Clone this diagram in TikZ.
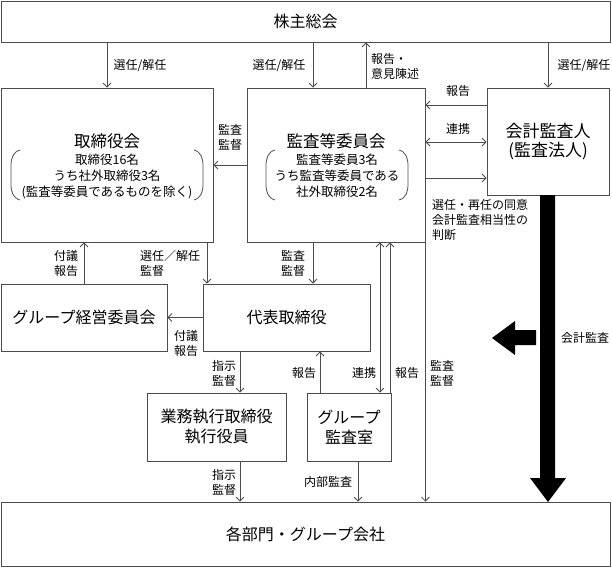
\documentclass[tikz,border=0pt]{standalone}
\usepackage{fontspec}
\setmainfont{Noto Sans CJK JP}
\usetikzlibrary{arrows.meta}

\begin{document}
\begin{tikzpicture}[x=1pt, y=-1pt,
  box/.style={draw=black!70, line width=0.8pt, inner sep=0pt, align=center, font=\fontsize{16}{20}\selectfont},
  wire/.style={draw=black!70, line width=0.8pt, -{Straight Barb[length=4pt,width=8pt]}},
  twoway/.style={wire, {Straight Barb[length=4pt,width=8pt]}-{Straight Barb[length=4pt,width=8pt]}},
  lbl/.style={inner sep=0pt, align=center, font=\fontsize{12}{15}\selectfont},
  inner/.style={inner sep=0pt, align=center, font=\fontsize{12.5}{16}\selectfont},
  paren/.style={draw=black!70, line width=0.8pt}
]
\useasboundingbox (0,0) rectangle (612,567);

% Top and bottom boxes
\node[box, minimum width=609pt, minimum height=41pt] (sh) at (305.5,21.5) {株主総会};
\node[box, minimum width=609pt, minimum height=64pt] (units) at (305.5,534) {各部門・グループ会社};

% Board and audit committee
\node[box, minimum width=212pt, minimum height=154pt] (board) at (107,165) {};
\node[box, font=\fontsize{16.5}{20}\selectfont, draw=none] (boardT) at (107,141) {取締役会};
\node[inner] (boardM) at (107,176) {取締役16名\\うち社外取締役3名\\(監査等委員であるものを除く)};
\draw[paren] (20,150) .. controls (13,152) and (11,158) .. (11,166) -- (11,184) .. controls (11,192) and (13,198) .. (20,200);
\draw[paren] (194,150) .. controls (201,152) and (203,158) .. (203,166) -- (203,184) .. controls (203,192) and (201,198) .. (194,200);

\node[box, minimum width=178pt, minimum height=154pt] (audit) at (336,165) {};
\node[box, font=\fontsize{16.5}{20}\selectfont, draw=none] (auditT) at (336,141) {監査等委員会};
\node[inner] (auditM) at (337,176) {監査等委員3名\\うち監査等委員である\\社外取締役2名};
\draw[paren] (275,150) .. controls (268,152) and (266,158) .. (266,166) -- (266,184) .. controls (266,192) and (268,198) .. (275,200);
\draw[paren] (399,150) .. controls (406,152) and (408,158) .. (408,166) -- (408,184) .. controls (408,192) and (406,198) .. (399,200);

\node[box, minimum width=122pt, minimum height=107pt, font=\fontsize{17}{19}\selectfont] (acct) at (548,141.5) {会計監査人\\(監査法人)};

% Middle and lower boxes
\node[box, minimum width=166pt, minimum height=67pt] (gmc) at (84,317.5) {グループ経営委員会};
\node[box, minimum width=167pt, minimum height=67pt] (rep) at (286.5,317.5) {代表取締役};
\node[box, minimum width=139pt, minimum height=68pt] (exec) at (216.5,427) {業務執行取締役\\執行役員};
\node[box, minimum width=84pt, minimum height=68pt] (gaud) at (349,427) {グループ\\監査室};

% Connectors from the shareholders
\draw[wire] (sh.south -| board.north) -- (board.north);
\draw[wire] (313,0 |- sh.south) -- (313,0 |- audit.north);
\draw[wire] (366,0 |- audit.north) -- (366,0 |- sh.south);
\draw[wire] (sh.south -| acct.north) -- (acct.north);

% Audit committee and auditor
\draw[wire] (audit.west) -- (board.east);
\draw[wire] (acct.west |- 0,105) -- (audit.east |- 0,105);
\draw[twoway] (audit.east |- 0,142) -- (acct.west |- 0,142);
\draw[wire] (audit.east |- 0,178) -- (acct.west |- 0,178);

% Middle row
\draw[wire] (gmc.north) -- (gmc.north |- board.south);
\draw[wire] (207,0 |- board.south) -- (207,0 |- rep.north);
\draw[wire] (313,0 |- audit.south) -- (313,0 |- rep.north);
\draw[wire] (rep.west) -- (gmc.east);

% Lower row
\draw[wire] (240,0 |- rep.south) -- (240,0 |- exec.north);
\draw[wire] (320,0 |- gaud.north) -- (320,0 |- rep.south);
\draw[twoway] (380,0 |- gaud.north) -- (380,0 |- audit.south);
\draw[wire] (390,0 |- gaud.north) -- (390,0 |- audit.south);
\draw[wire] (audit.south east) -- (audit.south east |- units.north);
\draw[wire] (240,0 |- exec.south) -- (240,0 |- units.north);
\draw[wire] (358,0 |- gaud.south) -- (358,0 |- units.north);

% Accounting audit arrows
\fill (540,195) -- (555,195) -- (555,478) -- (566,478) -- (548,502) -- (530,478) -- (540,478) -- cycle;
\fill (536,330) -- (515,330) -- (515,321) -- (492,338) -- (515,355) -- (515,345) -- (536,345) -- cycle;

% Labels
\node[lbl] (l1) at (140,66) {選任/解任};
\node[lbl] (l2) at (279,66) {選任/解任};
\node[lbl, anchor=west, align=left] (l3) at (371,66) {報告・\\意見陳述};
\node[lbl] (l4) at (584,66) {選任/解任};
\node[lbl] (l5) at (458,91) {報告};
\node[lbl] (l6) at (458,129) {連携};
\node[lbl] (l7) at (230,137) {監査\\監督};
\node[lbl, anchor=north west, align=left] (l8) at (432,199) {選任・再任の同意\\会計監査相当性の\\判断};
\node[lbl] (l9) at (66,263) {付議\\報告};
\node[lbl, anchor=west, align=left] (l10) at (140,263) {選任／解任\\監督};
\node[lbl] (l11) at (293,263) {監査\\監督};
\node[lbl] (l12) at (186,343) {付議\\報告};
\node[lbl] (l13) at (224,373) {指示\\監督};
\node[lbl] (l14) at (304,373) {報告};
\node[lbl] (l15) at (364,373) {連携};
\node[lbl] (l16) at (407,373) {報告};
\node[lbl] (l17) at (442,373) {監査\\監督};
\node[lbl] (l18) at (224,482) {指示\\監督};
\node[lbl] (l19) at (328,482) {内部監査};
\node[lbl] (l20) at (585,338) {会計監査};

\end{tikzpicture}
\end{document}
